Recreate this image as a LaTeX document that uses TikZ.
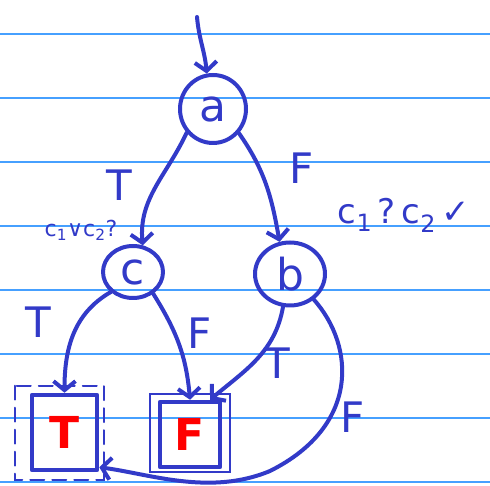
\documentclass[tikz,border=0pt]{standalone}
\usepackage{fontspec}
\setmainfont{DejaVu Sans}
\usetikzlibrary{arrows.meta,shapes.geometric}
\definecolor{pen}{RGB}{50,58,200}
\definecolor{ruleblue}{RGB}{70,160,255}
\begin{document}
\begin{tikzpicture}[x=1pt,y=1pt,
  pen/.style={draw=pen, line width=4pt, line cap=round, line join=round},
  arr/.style={pen, -{Straight Barb[length=9pt,width=22pt]}},
  lbl/.style={text=pen, font=\fontsize{42}{42}\selectfont, inner sep=0},
  small/.style={text=pen, inner sep=0},
  state/.style={pen, ellipse, inner sep=0, font=\fontsize{44}{44}\selectfont, text=pen},
  leaf/.style={pen, line width=4.5pt, rectangle, inner sep=0, text=red, font=\fontsize{44}{44}\selectfont\bfseries},
  sketch/.style={draw=pen, line width=2pt, line cap=round}]
\useasboundingbox (0,0) rectangle (490,486);
\foreach \y in {452,388,324,260,196,132,68,4} \draw[ruleblue, line width=1.3pt] (0,\y) -- (490,\y);

\node[state, minimum width=66pt, minimum height=68pt] (a) at (213,377) {a};
\node[state, minimum width=60pt, minimum height=52pt] (c) at (133,214) {c};
\node[state, minimum width=70pt, minimum height=63pt] (b) at (290,212) {b};
\node[leaf, minimum width=65pt, minimum height=75pt] (bt) at (64.5,53.5) {T};
\node[leaf, minimum width=60pt, minimum height=65pt] (bf) at (190,51.5) {F};

\draw[sketch, dash pattern=on 14pt off 8pt] ([shift={(-15,7)}]bt.north west) rectangle ([shift={(5,-8)}]bt.south east);
\draw[sketch] ([shift={(-8,6)}]bf.north west) rectangle ([shift={(8,-3)}]bf.south east);

\coordinate (in) at (197,469);
\draw[arr] (in) to[out=-85, in=95] (a.100);
\draw[arr] (a.222) to[out=-115, in=95] (c.70);
\draw[arr] (a.317) to[out=-55, in=100] (b.108);
\draw[arr] (c.222) to[out=-150, in=90] (bt.north);
\draw[arr] (c.313) to[out=-58, in=95] (bf.north);
\draw[arr] (b.258) to[out=-100, in=40] (bf.60);
\draw[arr] (b.313) .. controls (355,140) and (360,60) .. (270,15) .. controls (210,-10) and (150,12) .. (bt.-45);

\node[lbl] (l1) at (119,301) {T};
\node[lbl] (l2) at (302,318) {F};
\node[lbl] (l3) at (38,164) {T};
\node[lbl] (l4) at (200,153) {F};
\node[lbl] (l5) at (277,123) {T};
\node[lbl] (l6) at (353,69) {F};
\node[small, font=\fontsize{22}{22}\selectfont] (q1) at (81,256) {c\textsubscript{1}∨c\textsubscript{2}?};
\node[small, font=\fontsize{34}{34}\selectfont] (q2) at (404,271) {c\textsubscript{1}\,?\,c\textsubscript{2}\,✓};
\end{tikzpicture}
\end{document}
